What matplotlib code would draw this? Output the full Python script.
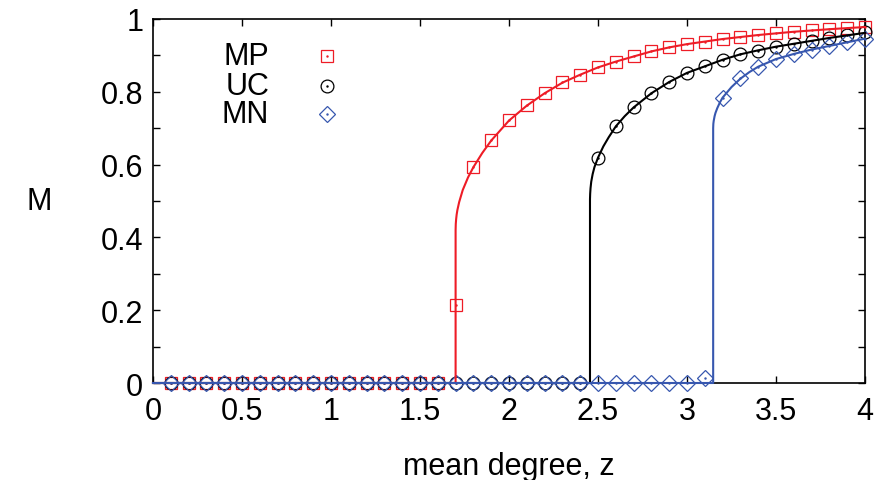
import matplotlib
matplotlib.use("Agg")
import matplotlib.pyplot as plt
from matplotlib.ticker import FixedLocator

plt.rcParams['font.family'] = ['Liberation Sans', 'DejaVu Sans']

# ---- data ----
z_pts = [0.1, 0.2, 0.3, 0.4, 0.5, 0.6, 0.7, 0.8, 0.9, 1.0,
         1.1, 1.2, 1.3, 1.4, 1.5, 1.6, 1.7, 1.8, 1.9, 2.0,
         2.1, 2.2, 2.3, 2.4, 2.5, 2.6, 2.7, 2.8, 2.9, 3.0,
         3.1, 3.2, 3.3, 3.4, 3.5, 3.6, 3.7, 3.8, 3.9, 4.0]

mp_pts = [0, 0, 0, 0, 0, 0, 0, 0, 0, 0,
          0, 0, 0, 0, 0, 0, 0.215, 0.593, 0.667, 0.723,
          0.763, 0.796, 0.826, 0.847, 0.867, 0.883, 0.897, 0.911, 0.922, 0.931,
          0.938, 0.945, 0.950, 0.956, 0.961, 0.965, 0.970, 0.972, 0.975, 0.978]

uc_pts = [0, 0, 0, 0, 0, 0, 0, 0, 0, 0,
          0, 0, 0, 0, 0, 0, 0, 0, 0, 0,
          0, 0, 0, 0, 0.619, 0.706, 0.757, 0.796, 0.827, 0.852,
          0.870, 0.888, 0.904, 0.913, 0.924, 0.931, 0.940, 0.948, 0.956, 0.963]

mn_pts = [0, 0, 0, 0, 0, 0, 0, 0, 0, 0,
          0, 0, 0, 0, 0, 0, 0, 0, 0, 0,
          0, 0, 0, 0, 0, 0, 0, 0, 0, 0,
          0.015, 0.784, 0.837, 0.869, 0.890, 0.904, 0.916, 0.925, 0.936, 0.946]

mp_line_z = [0.0, 1.700, 1.700, 1.701, 1.703, 1.706, 1.71, 1.72, 1.74, 1.77, 1.8,
             1.85, 1.9, 2.0, 2.1, 2.2, 2.3, 2.4, 2.5, 2.6, 2.7, 2.8, 2.9, 3.0,
             3.2, 3.4, 3.6, 3.8, 4.0]
mp_line_m = [0.0, 0.0, 0.42, 0.437, 0.45, 0.463, 0.475, 0.497, 0.53, 0.565, 0.593,
             0.632, 0.666, 0.721, 0.762, 0.796, 0.825, 0.847, 0.867, 0.883, 0.897, 0.911, 0.922, 0.931,
             0.945, 0.956, 0.965, 0.972, 0.978]

uc_line_z = [0.0, 2.455, 2.455, 2.456, 2.458, 2.462, 2.47, 2.48, 2.5, 2.53, 2.56,
             2.6, 2.65, 2.7, 2.8, 2.9, 3.0, 3.1, 3.2, 3.3, 3.4, 3.5, 3.6, 3.7, 3.8, 3.9, 4.0]
uc_line_m = [0.0, 0.0, 0.505, 0.52, 0.535, 0.553, 0.574, 0.593, 0.619, 0.65, 0.675,
             0.705, 0.733, 0.757, 0.796, 0.827, 0.852, 0.870, 0.888, 0.903, 0.914, 0.924, 0.932, 0.940, 0.948, 0.955, 0.962]

mn_line_z = [0.0, 3.147, 3.147, 3.148, 3.15, 3.155, 3.16, 3.17, 3.185, 3.2, 3.25,
             3.3, 3.35, 3.4, 3.5, 3.6, 3.7, 3.8, 3.9, 4.0]
mn_line_m = [0.0, 0.0, 0.70, 0.712, 0.72, 0.733, 0.742, 0.755, 0.771, 0.784, 0.813,
             0.836, 0.854, 0.869, 0.890, 0.904, 0.916, 0.926, 0.936, 0.946]

labels = ["MP", "UC", "MN"]
x_ticks = [0, 0.5, 1, 1.5, 2, 2.5, 3, 3.5, 4]
x_tick_labels = ["0", "0.5", "1", "1.5", "2", "2.5", "3", "3.5", "4"]
y_ticks = [0, 0.2, 0.4, 0.6, 0.8, 1]
y_tick_labels = ["0", "0.2", "0.4", "0.6", "0.8", "1"]
y_minor = [0.1, 0.3, 0.5, 0.7, 0.9]

RED = '#EE1C26'
BLACK = '#000000'
BLUE = '#3757AF'
FS = 22

fig = plt.figure(figsize=(8.81, 4.81), dpi=100)
ax = fig.add_axes([153/881, 1 - 384/481, (865-153)/881, (384-20)/481])

mkw = dict(linestyle='none', markerfacecolor='none', markeredgewidth=0.9, clip_on=False)
ax.plot(z_pts, mp_pts, marker='s', markersize=8.8, markeredgecolor=RED, zorder=3, **mkw)
ax.plot(z_pts, mp_pts, marker='.', markersize=1.5, color=RED, linestyle='none', clip_on=False, zorder=3)
ax.plot(z_pts, uc_pts, marker='o', markersize=9.2, markeredgecolor=BLACK, zorder=3, **mkw)
ax.plot(z_pts, uc_pts, marker='.', markersize=1.5, color=BLACK, linestyle='none', clip_on=False, zorder=3)
ax.plot(z_pts, mn_pts, marker='D', markersize=8.0, markeredgecolor=BLUE, zorder=3, **mkw)
ax.plot(z_pts, mn_pts, marker='.', markersize=1.5, color=BLUE, linestyle='none', clip_on=False, zorder=3)

ax.plot(mp_line_z, mp_line_m, color=RED, lw=1.5, clip_on=False, zorder=4)
ax.plot(uc_line_z, uc_line_m, color=BLACK, lw=1.5, clip_on=False, zorder=4)
ax.plot(mn_line_z, mn_line_m, color=BLUE, lw=1.5, clip_on=False, zorder=4)

ax.set_xlim(0, 4)
ax.set_ylim(0, 1)
ax.xaxis.set_major_locator(FixedLocator(x_ticks))
ax.set_xticklabels(x_tick_labels)
ax.yaxis.set_major_locator(FixedLocator(y_ticks))
ax.set_yticklabels(y_tick_labels)
ax.yaxis.set_minor_locator(FixedLocator(y_minor))

ax.tick_params(which='both', direction='in', top=True, right=True, labelsize=FS,
               length=5, width=1.0)
ax.tick_params(axis='x', pad=9)
ax.tick_params(axis='y', pad=7)
for s in ax.spines.values():
    s.set_linewidth(1.2)

ax.set_xlabel("mean degree, z", fontsize=FS, labelpad=18)
ax.set_ylabel("M", fontsize=FS, rotation=0, labelpad=44, va='center')

# key (text right-aligned, symbol to the right)
key_y = [0.897, 0.815, 0.738]
key_mk = ['s', 'o', 'D']
key_ms = [8.8, 9.2, 8.0]
key_col = [RED, BLACK, BLUE]
for lab, yy, m, ms, c in zip(labels, key_y, key_mk, key_ms, key_col):
    ax.text(0.163, yy, lab, transform=ax.transAxes, ha='right', va='center', fontsize=FS)
    ax.plot([0.244], [yy], transform=ax.transAxes, marker=m, markersize=ms,
            markerfacecolor='none', markeredgecolor=c, markeredgewidth=0.9, linestyle='none')
    ax.plot([0.244], [yy], transform=ax.transAxes, marker='.', markersize=1.5, color=c, linestyle='none')

fig.savefig("out.png", dpi=100)
